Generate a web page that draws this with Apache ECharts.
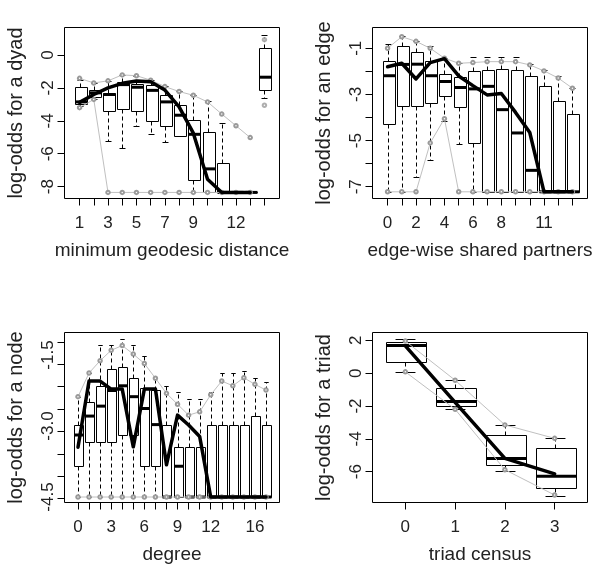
<!DOCTYPE html>
<html><head><meta charset="utf-8">
<script src="https://cdn.jsdelivr.net/npm/echarts@6/dist/echarts.min.js"></script>
<style>html,body{margin:0;padding:0;background:#fff}#c{width:598px;height:571px}</style>
</head><body><div id="c"></div>
<script>
// ---------- Panel 1: minimum geodesic distance ----------
const p1Categories = ['1','2','3','4','5','6','7','8','9','10','11','12','13','NR'];
const p1XLabels = ['1','3','5','7','9','12'];
const p1YTicks = [0, -2, -4, -6, -8];
const p1WhiskerLow  = [-3.1, -2.7, -5.25, -5.65, -4.3, -4.8, -5.3, -4.9, -8.35, -8.35, -8.35, -8.35, -8.35, -2.6];
const p1Q1          = [-2.95, -2.55, -3.4, -3.26, -3.4, -4.0, -4.3, -4.9, -7.62, -8.35, -8.35, -8.35, -8.35, -2.15];
const p1Median      = [-2.85, -2.3, -2.4, -1.8, -1.96, -2.15, -2.85, -3.66, -4.82, -6.92, -8.35, -8.35, -8.35, -1.35];
const p1Q3          = [-1.92, -2.12, -2.3, -1.64, -1.74, -1.85, -2.45, -3.03, -3.93, -4.68, -6.55, -8.35, -8.35, 0.45];
const p1WhiskerHigh = [-1.5, -1.71, -1.57, -1.21, -1.26, -1.53, -1.9, -2.2, -2.43, -2.78, -4.13, -8.35, -8.35, 1.22];
const p1Observed    = [-2.88, -2.4, -2.0, -1.72, -1.58, -1.62, -2.13, -3.15, -4.75, -7.55, -8.35, -8.35, -8.35];
const p1GreyUpper   = [-1.42, -1.7, -1.57, -1.21, -1.26, -1.53, -1.92, -2.22, -2.45, -2.85, -3.59, -4.3, -5.02];
const p1GreyLower   = [-3.2, -2.7, -8.35, -8.35, -8.35, -8.35, -8.35, -8.35, -8.35, -8.35, -8.35, -8.35, -8.35];
const p1NrPoints    = [0.93, -3.05];

// ---------- Panel 2: edge-wise shared partners ----------
const p2Categories = ['0','1','2','3','4','5','6','7','8','9','10','11','12','13'];
const p2XLabels = ['0','2','4','6','8','11'];
const p2YTicks = [-1, -2, -3, -4, -5, -6, -7];
const p2YLabels = [-1, -3, -5, -7];
const p2WhiskerLow  = [-7.22, -7.22, -6.57, -5.86, -4.15, -5.13, -7.22, -7.22, -7.22, -7.22, -7.22, -7.22, -7.22, -7.22];
const p2Q1          = [-4.27, -3.5, -3.49, -3.37, -3.06, -3.56, -5.1, -7.22, -7.22, -7.22, -7.22, -7.22, -7.22, -7.22];
const p2Median      = [-2.19, -1.7, -1.69, -2.19, -2.44, -2.7, -2.76, -2.65, -3.66, -4.67, -6.29, -7.22, -7.22, -7.22];
const p2Q3          = [-1.55, -0.9, -1.14, -1.55, -2.12, -2.25, -2.0, -1.96, -1.89, -1.96, -2.22, -2.63, -3.27, -3.83];
const p2WhiskerHigh = [-0.8, -0.47, -0.67, -0.88, -1.43, -1.62, -1.39, -1.39, -1.39, -1.39, -1.69, -1.94, -2.18, -2.73];
const p2Observed    = [-1.8, -1.65, -2.33, -1.62, -1.45, -2.2, -2.62, -3.02, -2.96, -3.78, -4.65, -7.22, -7.22, -7.22];
const p2GreyUpper   = [-1.0, -0.5, -0.7, -1.0, -1.43, -1.65, -1.62, -1.58, -1.58, -1.58, -1.72, -1.98, -2.29, -2.73];
const p2GreyLower   = [-7.22, -7.22, -7.22, -5.1, -4.05, -7.22, -7.22, -7.22, -7.22, -7.22, -7.22, -7.22, -7.22, -7.22];

// ---------- Panel 3: degree ----------
const p3Categories = ['0','1','2','3','4','5','6','7','8','9','10','11','12','13','14','15','16','17'];
const p3XLabels = ['0','3','6','9','12','16'];
const p3YTicks = [-4.527, -4.056, -3.591, -3.120, -2.647, -2.170, -1.696, -1.240];
const p3YLabels = [-4.5, -3.0, -1.5];
const p3WhiskerLow  = [-4.5, -4.5, -4.5, -4.5, -4.5, -4.5, -4.5, -4.5, -4.5, -4.5, -4.5, -4.5, -4.5, -4.5, -4.5, -4.5, -4.5, -4.5];
const p3Q1          = [-3.85, -3.33, -3.33, -3.33, -3.19, -3.19, -3.85, -3.85, -4.5, -4.5, -4.5, -4.5, -4.5, -4.5, -4.5, -4.5, -4.5, -4.5];
const p3Median      = [-3.19, -2.79, -2.58, -2.25, -2.15, -2.38, -2.63, -2.97, -4.5, -3.85, -4.5, -4.5, -4.5, -4.5, -4.5, -4.5, -4.5, -4.5];
const p3Q3          = [-2.97, -2.49, -2.16, -1.80, -1.75, -1.98, -2.20, -2.23, -2.97, -3.44, -3.44, -3.44, -2.97, -2.97, -2.97, -2.97, -2.79, -2.97];
const p3WhiskerHigh = [-2.38, -1.89, -1.29, -1.29, -1.17, -1.29, -1.52, -1.99, -2.16, -2.28, -2.42, -2.42, -2.28, -1.89, -1.89, -1.83, -1.99, -2.06];
const p3Observed    = [-3.45, -2.05, -2.05, -2.22, -2.22, -3.44, -2.22, -2.22, -3.82, -2.77, -2.98, -3.22, -4.5, -4.5, -4.5, -4.5, -4.5, -4.5];
const p3GreyUpper   = [-2.38, -1.88, -1.62, -1.40, -1.30, -1.48, -1.68, -1.99, -2.31, -2.54, -2.77, -2.70, -2.34, -2.05, -2.15, -1.98, -2.12, -2.24];
const p3GreyLower   = [-4.5, -4.5, -4.5, -4.5, -4.5, -4.5, -4.5, -4.5, -4.5, -4.5, -4.5, -4.5, -4.5, -4.5, -4.5, -4.5, -4.5, -4.5];

// ---------- Panel 4: triad census ----------
const p4Categories = ['0','1','2','3'];
const p4XLabels = ['0','1','2','3'];
const p4YTicks = [2, 0, -2, -4, -6];
const p4WhiskerLow  = [0.1, -2.2, -5.95, -7.45];
const p4Q1          = [0.7, -1.98, -5.57, -6.98];
const p4Median      = [1.68, -1.73, -5.19, -6.28];
const p4Q3          = [1.88, -0.91, -3.75, -4.56];
const p4WhiskerHigh = [2.1, -0.4, -3.14, -3.95];
const p4Observed    = [1.66, -1.78, -5.19, -6.13];
const p4GreyUpper   = [1.95, -0.43, -3.15, -3.97];
const p4GreyLower   = [0.08, -2.2, -5.88, -7.42];

const FONT = '"Liberation Sans", Arial, sans-serif';
const TXT = '#222';

const panels = [
  {cats:p1Categories, xl:p1XLabels, yt:p1YTicks, yl:p1YTicks, yfmt:v=>String(Math.round(v)),
   lo:p1WhiskerLow,q1:p1Q1,med:p1Median,q3:p1Q3,hi:p1WhiskerHigh,obs:p1Observed,gu:p1GreyUpper,gl:p1GreyLower,
   grid:{left:64.5, top:27.5, width:215, height:171}, ymin:-8.72, ymax:1.67,
   xname:'minimum geodesic distance', yname:'log-odds for a dyad', bw:0.84},
  {cats:p2Categories, xl:p2XLabels, yt:p2YTicks, yl:p2YLabels, yfmt:v=>String(Math.round(v)),
   lo:p2WhiskerLow,q1:p2Q1,med:p2Median,q3:p2Q3,hi:p2WhiskerHigh,obs:p2Observed,gu:p2GreyUpper,gl:p2GreyLower,
   grid:{left:372.5, top:27.5, width:215, height:171}, ymin:-7.51, ymax:-0.1,
   xname:'edge-wise shared partners', yname:'log-odds for an edge', bw:0.84},
  {cats:p3Categories, xl:p3XLabels, yt:p3YTicks, yl:p3YLabels, yfmt:v=>v.toFixed(1),
   lo:p3WhiskerLow,q1:p3Q1,med:p3Median,q3:p3Q3,hi:p3WhiskerHigh,obs:p3Observed,gu:p3GreyUpper,gl:p3GreyLower,
   grid:{left:64.5, top:332.5, width:215, height:170}, ymin:-4.616, ymax:-1.024,
   xname:'degree', yname:'log-odds for a node', bw:0.8},
  {cats:p4Categories, xl:p4XLabels, yt:p4YTicks, yl:p4YTicks, yfmt:v=>String(Math.round(v)),
   lo:p4WhiskerLow,q1:p4Q1,med:p4Median,q3:p4Q3,hi:p4WhiskerHigh,obs:p4Observed,gu:p4GreyUpper,gl:p4GreyLower,
   grid:{left:372.5, top:332.5, width:215, height:170}, ymin:-7.875, ymax:2.475,
   xname:'triad census', yname:'log-odds for a triad', bw:0.8}
];

function boxRender(bw) {
  return function (params, api) {
    const x = api.value(0);
    const unit = api.size([1, 0])[0];
    const hw = unit * bw / 2;
    const cx = Math.round(api.coord([x, 0])[0]) + 0.5;
    const py = v => Math.round(api.coord([x, v])[1]) + 0.5;
    const yLo = py(api.value(1)), yQ1 = py(api.value(2)), yMed = api.coord([x, api.value(3)])[1];
    const yQ3 = py(api.value(4)), yHi = py(api.value(5));
    const L = Math.round(cx - hw) + 0.5, W = Math.round(2 * hw);
    const cw = hw / 2;
    const thin = {stroke:'#000', lineWidth:1, fill:null};
    const dash = {stroke:'#000', lineWidth:1, lineDash:[4,3], fill:null};
    const ch = [];
    if (yHi < yQ3 - 0.5) {
      ch.push({type:'line', shape:{x1:cx, y1:yQ3, x2:cx, y2:yHi}, style:dash});
      ch.push({type:'line', shape:{x1:cx - cw, y1:yHi, x2:cx + cw, y2:yHi}, style:thin});
    }
    if (yLo > yQ1 + 0.5) {
      ch.push({type:'line', shape:{x1:cx, y1:yQ1, x2:cx, y2:yLo}, style:dash});
      ch.push({type:'line', shape:{x1:cx - cw, y1:yLo, x2:cx + cw, y2:yLo}, style:thin});
    }
    ch.push({type:'rect', shape:{x:L, y:yQ3, width:W, height:yQ1 - yQ3},
      style:{fill:'rgba(255,255,255,0)', stroke:'#000', lineWidth:1}});
    ch.push({type:'line', shape:{x1:L, y1:yMed, x2:L + W, y2:yMed}, style:{stroke:'#000', lineWidth:3, fill:null}});
    return {type:'group', children:ch};
  };
}

const grids = [], xAxes = [], yAxes = [], series = [];
panels.forEach((p, i) => {
  const n = p.cats.length;
  grids.push(Object.assign({show:true, borderColor:'#000', borderWidth:1, backgroundColor:'#fff', outerBoundsMode:'none'}, p.grid));
  const pos = p.cats.map((c, k) => k + 1);
  const labelPos = p.xl.map(l => p.cats.indexOf(l) + 1);
  xAxes.push({gridIndex:i, type:'value', min:0.5 - 0.04 * n, max:n + 0.5 + 0.04 * n,
    axisLine:{show:false, onZero:false}, splitLine:{show:false},
    axisTick:{show:true, length:7, customValues:pos, lineStyle:{color:'#000', width:1}},
    axisLabel:{customValues:labelPos, formatter:v => p.cats[Math.round(v) - 1], margin:16, fontSize:17, color:TXT, fontFamily:FONT},
    name:p.xname, nameLocation:'middle', nameGap:43, nameTextStyle:{fontSize:19, color:TXT, fontFamily:FONT}});
  yAxes.push({gridIndex:i, type:'value', min:p.ymin, max:p.ymax,
    axisLine:{show:false, onZero:false}, splitLine:{show:false},
    axisTick:{show:true, length:7, customValues:p.yt, lineStyle:{color:'#000', width:1}},
    axisLabel:{customValues:p.yl, formatter:p.yfmt, rotate:90, margin:8, fontSize:17, color:TXT, fontFamily:FONT},
    name:p.yname, nameLocation:'middle', nameGap:38, nameRotate:90, nameTextStyle:{fontSize:20, color:TXT, fontFamily:FONT}});
  series.push({type:'custom', xAxisIndex:i, yAxisIndex:i, z:2, silent:true,
    data:pos.map((x, k) => [x, p.lo[k], p.q1[k], p.med[k], p.q3[k], p.hi[k]]),
    encode:{x:0, y:[1,2,3,4,5]}, renderItem:boxRender(p.bw)});
  [p.gu, p.gl].forEach(g => series.push({type:'line', xAxisIndex:i, yAxisIndex:i, z:3, silent:true,
    data:g.map((v, k) => [k + 1, v]), symbol:'emptyCircle', symbolSize:3.5, showSymbol:true,
    lineStyle:{color:'#c0c0c0', width:1}, itemStyle:{color:'#9a9a9a', borderWidth:1}}));
  series.push({type:'line', xAxisIndex:i, yAxisIndex:i, z:4, silent:true,
    data:p.obs.map((v, k) => [k + 1, v]), symbol:'none',
    lineStyle:{color:'#000', width:3.5, join:'round', cap:'round'}});
});
series.push({type:'scatter', xAxisIndex:0, yAxisIndex:0, z:3, silent:true,
  data:p1NrPoints.map(v => [p1Categories.length, v]), symbol:'emptyCircle', symbolSize:3.5,
  itemStyle:{color:'#9a9a9a', borderWidth:1}});

const chart = echarts.init(document.getElementById('c'), null, {renderer:'canvas'});
chart.setOption({animation:false, backgroundColor:'#fff', grid:grids, xAxis:xAxes, yAxis:yAxes, series:series});
</script></body></html>
